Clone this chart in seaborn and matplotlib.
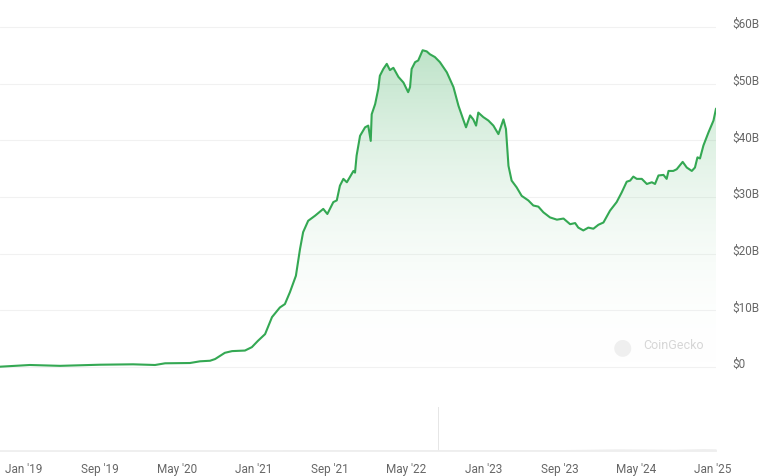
import numpy as np
import pandas as pd
import matplotlib
matplotlib.use("Agg")
import matplotlib.pyplot as plt
import matplotlib.dates as mdates
from matplotlib.colors import LinearSegmentedColormap
from matplotlib.patches import PathPatch
from matplotlib.path import Path
import seaborn as sns

# market cap, billions of USD
dates = [
    "2018-10-17", "2019-01-20", "2019-04-26", "2019-08-31", "2019-12-14", "2020-02-22",
    "2020-03-25", "2020-06-12", "2020-07-14", "2020-08-15", "2020-08-31", "2020-10-01",
    "2020-10-24", "2020-12-04", "2020-12-26", "2021-01-14", "2021-02-06", "2021-02-28",
    "2021-03-25", "2021-04-10", "2021-04-26", "2021-05-15", "2021-05-28", "2021-06-07",
    "2021-06-23", "2021-07-15", "2021-08-10", "2021-08-23", "2021-09-11", "2021-09-22",
    "2021-10-02", "2021-10-13", "2021-10-24", "2021-11-14", "2021-11-19", "2021-11-24",
    "2021-12-05", "2021-12-21", "2021-12-31", "2022-01-08", "2022-01-11", "2022-01-22",
    "2022-02-01", "2022-02-06", "2022-02-17", "2022-02-28", "2022-03-10", "2022-03-21",
    "2022-04-06", "2022-04-22", "2022-05-07", "2022-05-13", "2022-05-18", "2022-05-29",
    "2022-06-08", "2022-06-22", "2022-07-05", "2022-07-15", "2022-07-31", "2022-08-16",
    "2022-09-07", "2022-09-28", "2022-10-14", "2022-10-29", "2022-11-07", "2022-11-20",
    "2022-11-30", "2022-12-09", "2022-12-16", "2023-01-01", "2023-01-17", "2023-02-02",
    "2023-02-18", "2023-03-06", "2023-03-14", "2023-03-22", "2023-04-01", "2023-04-17",
    "2023-05-03", "2023-05-24", "2023-06-09", "2023-06-25", "2023-07-11", "2023-08-01",
    "2023-08-23", "2023-09-13", "2023-10-04", "2023-10-20", "2023-10-30", "2023-11-15",
    "2023-12-01", "2023-12-17", "2024-01-02", "2024-01-18", "2024-02-08", "2024-02-29",
    "2024-03-16", "2024-04-01", "2024-04-12", "2024-04-22", "2024-05-03", "2024-05-19",
    "2024-06-04", "2024-06-20", "2024-06-30", "2024-07-11", "2024-07-27", "2024-08-06",
    "2024-08-12", "2024-08-27", "2024-09-07", "2024-09-26", "2024-10-09", "2024-10-25",
    "2024-11-04", "2024-11-12", "2024-11-20", "2024-12-01", "2024-12-17", "2025-01-02",
    "2025-01-10",
]
mcap_b = [
    0.05, 0.35, 0.2, 0.4, 0.47, 0.35,
    0.65, 0.7, 1.0, 1.1, 1.4, 2.5,
    2.8, 2.9, 3.5, 4.6, 5.8, 8.8,
    10.5, 11.1, 13.2, 16.1, 20.8, 23.8,
    25.8, 26.7, 27.9, 27.0, 29.1, 29.4,
    32.0, 33.2, 32.6, 34.6, 34.3, 37.3,
    40.8, 42.3, 42.6, 39.9, 44.6, 46.4,
    49.1, 51.4, 52.6, 53.5, 52.4, 52.8,
    51.2, 50.2, 48.5, 49.4, 52.6, 53.8,
    54.1, 55.9, 55.7, 55.2, 54.7, 53.8,
    52.0, 49.4, 46.1, 43.7, 42.3, 44.4,
    43.7, 42.6, 44.9, 44.1, 43.5, 42.6,
    41.1, 43.7, 42.0, 35.5, 32.9, 31.7,
    30.2, 29.4, 28.5, 28.3, 27.3, 26.4,
    26.0, 26.2, 25.2, 25.4, 24.6, 24.1,
    24.6, 24.4, 25.1, 25.5, 27.6, 29.1,
    30.8, 32.7, 32.9, 33.6, 33.2, 33.2,
    32.3, 32.6, 32.3, 33.8, 33.9, 33.2,
    34.6, 34.6, 34.9, 36.2, 35.2, 34.6,
    35.2, 37.0, 36.8, 39.1, 41.4, 43.5,
    45.6,
]

# volume panel (relative units, barely visible in the original)
vol_dates = ["2018-10-17", "2020-06-01", "2021-06-01", "2022-06-01", "2023-06-01",
             "2023-12-01", "2024-03-01", "2024-06-01", "2024-09-01", "2024-12-01", "2025-01-10"]
vol_vals = [1.0, 1.5, 2.5, 3.0, 2.5, 4.0, 5.0, 4.5, 4.0, 5.5, 5.0]
spike_dates = ["2022-08-12"]
spike_vals = [100]

tick_dates = ["2019-01-01", "2019-09-01", "2020-05-01", "2021-01-01", "2021-09-01",
              "2022-05-01", "2023-01-01", "2023-09-01", "2024-05-01", "2025-01-01"]
tick_labels = ["Jan '19", "Sep '19", "May '20", "Jan '21", "Sep '21",
               "May '22", "Jan '23", "Sep '23", "May '24", "Jan '25"]
ytick_vals = [0, 10, 20, 30, 40, 50, 60]
ytick_labels = ["$0", "$10B", "$20B", "$30B", "$40B", "$50B", "$60B"]

line_color = "#34a853"
text_color = "#666666"

sns.set_theme(style="white")
plt.rcParams['font.family'] = ['Roboto', 'DejaVu Sans']

df = pd.DataFrame({"date": pd.to_datetime(dates), "mcap": mcap_b})
xmin = pd.Timestamp(dates[0])
xmax = pd.Timestamp(dates[-1])

fig = plt.figure(figsize=(7.76, 4.77), dpi=100)
ax = fig.add_axes([0, 0.2048, 0.9227, 0.7602])
axv = fig.add_axes([0, 0.0524, 0.9227, 0.109], sharex=ax)

# gradient fill under the line
xn = mdates.date2num(df["date"])
verts = [(xn[0], 0)] + list(zip(xn, df["mcap"])) + [(xn[-1], 0), (xn[0], 0)]
clip = PathPatch(Path(verts), facecolor="none", edgecolor="none")
ax.add_patch(clip)
cmap = LinearSegmentedColormap.from_list("fade", [(1, 1, 1, 0), (0.2, 0.66, 0.33, 0.32)])
grad = np.linspace(0, 1, 256).reshape(-1, 1)
im = ax.imshow(grad, cmap=cmap, origin="lower", aspect="auto",
               extent=[xn[0], xn[-1], 0, max(mcap_b)], zorder=1)
im.set_clip_path(clip)

sns.lineplot(data=df, x="date", y="mcap", ax=ax, color=line_color, linewidth=1.5, zorder=3)

ax.set_xlim(xmin, xmax)
ax.set_ylim(-2, 62)
ax.set_xlabel("")
ax.set_ylabel("")
for s in ax.spines.values():
    s.set_visible(False)
ax.yaxis.tick_right()
ax.set_yticks(ytick_vals, ytick_labels)
ax.yaxis.grid(True, color="#f1f1f1", linewidth=0.8)
ax.set_axisbelow(True)
ax.tick_params(axis="y", length=0, pad=12, labelsize=8.5, labelcolor=text_color)
for lab in ax.get_yticklabels():
    lab.set_va("baseline")
ax.tick_params(axis="x", bottom=False, labelbottom=False)

# volume panel
axv.fill_between(pd.to_datetime(vol_dates), vol_vals, color="#eeeeee", linewidth=0)
axv.bar(pd.to_datetime(spike_dates), spike_vals, width=1.5, color="#e6e6e6", linewidth=0)
axv.set_ylim(0, 118)
axv.set_yticks([])
for name, s in axv.spines.items():
    s.set_visible(name == "bottom")
axv.spines["bottom"].set_color("#eeeeee")
axv.set_xticks(pd.to_datetime(tick_dates), tick_labels)
axv.tick_params(axis="x", length=0, pad=8, labelsize=8.5, labelcolor=text_color)
axv.set_xlim(xmin, xmax)

# watermark
fig.text(622 / 776, 1 - 347 / 477, "\u25cf", color="#efefef", fontsize=16,
         ha="center", va="center", family=["DejaVu Sans"])
fig.text(643 / 776, 1 - 346 / 477, "CoinGecko", color="#d6d6d6", fontsize=9,
         ha="left", va="center")

fig.savefig("out.png", dpi=100)
